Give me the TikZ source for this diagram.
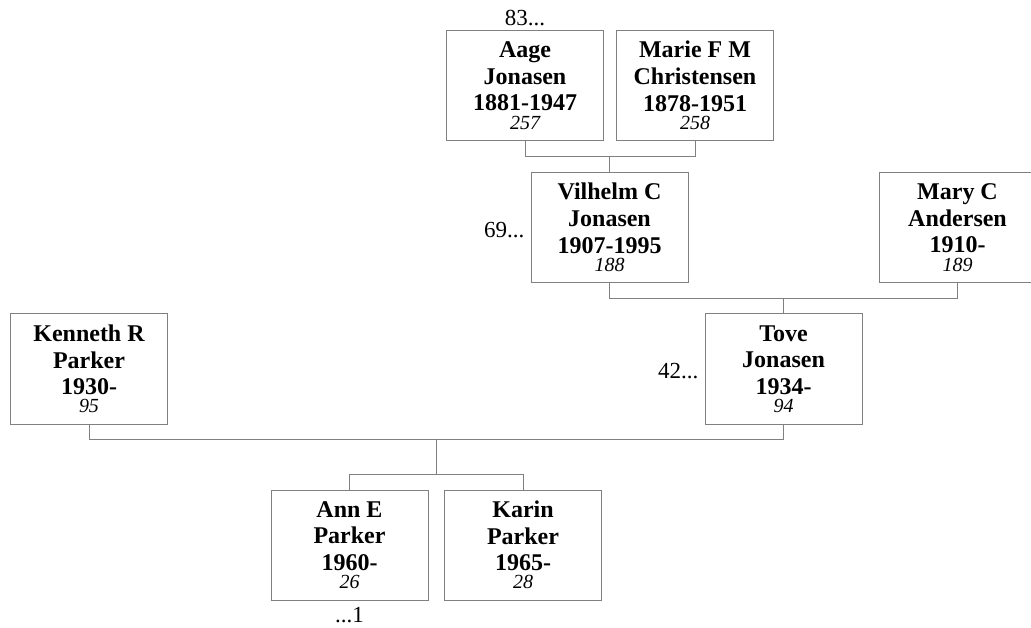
\documentclass[tikz,border=0pt]{standalone}
\usepackage{fontspec}
\setmainfont{Liberation Serif}
\usetikzlibrary{calc}

\newcommand{\refno}[1]{\\[-8.3pt]{\fontsize{20}{20}\selectfont\mdseries\itshape #1}}

\begin{document}
\begin{tikzpicture}[x=1pt, y=-1pt]
    % Define styles
    \tikzset{
        person/.style={
            draw=gray,
            line width=1pt,
            minimum width=157pt,
            minimum height=110pt,
            inner sep=0pt,
            align=center,
            font=\fontsize{24}{26.6}\selectfont\bfseries
        },
        link/.style={
            draw=gray,
            line width=1pt
        },
        more/.style={
            font=\fontsize{23}{23}\selectfont,
            inner sep=1pt
        }
    }

    \useasboundingbox (0,0) rectangle (1031,628);

    % Grandparents
    \node[person] (aage) at (525,85.5) {Aage\\Jonasen\\1881-1947\refno{257}};
    \node[person] (marie) at (695,85.5) {Marie F M\\Christensen\\1878-1951\refno{258}};

    % Parents of Tove
    \node[person] (vilhelm) at (609.5,227.5) {Vilhelm C\\Jonasen\\1907-1995\refno{188}};
    \node[person] (mary) at (957.5,227.5) {Mary C\\Andersen\\1910-\refno{189}};

    % Parents
    \node[person] (kenneth) at (89,369) {Kenneth R\\Parker\\1930-\refno{95}};
    \node[person] (tove) at (783.5,369) {Tove\\Jonasen\\1934-\refno{94}};

    % Children
    \node[person] (ann) at (349.5,545) {Ann E\\Parker\\1960-\refno{26}};
    \node[person] (karin) at (523,545) {Karin\\Parker\\1965-\refno{28}};

    % Continuation marks
    \node[more, anchor=base] (aagemore) at ([yshift=4pt]aage.north) {83...};
    \node[more, anchor=east] (vilhelmmore) at ([xshift=-5pt, yshift=-2.5pt]vilhelm.west) {69...};
    \node[more, anchor=east] (tovemore) at ([xshift=-5pt, yshift=-2.5pt]tove.west) {42...};
    \node[more, anchor=north] (annmore) at ([yshift=-5.5pt]ann.south) {...1};

    % Family lines
    \draw[link] (aage.south) -- ++(0,16) coordinate (fam1) -| (marie.south);
    \draw[link] (vilhelm.north) -- (vilhelm.north |- fam1);

    \draw[link] (vilhelm.south) -- ++(0,16) coordinate (fam2) -| (mary.south);
    \draw[link] (tove.north) -- (tove.north |- fam2);

    \draw[link] (kenneth.south) -- ++(0,15) coordinate (fam3) -| (tove.south);
    \draw[link] (ann.north) -- ++(0,-15) coordinate (kids) -| (karin.north);
    \coordinate (kidsmid) at ($(kids)!0.5!(kids -| karin.north)$);
    \draw[link] (kidsmid) -- (kidsmid |- fam3);

\end{tikzpicture}
\end{document}
